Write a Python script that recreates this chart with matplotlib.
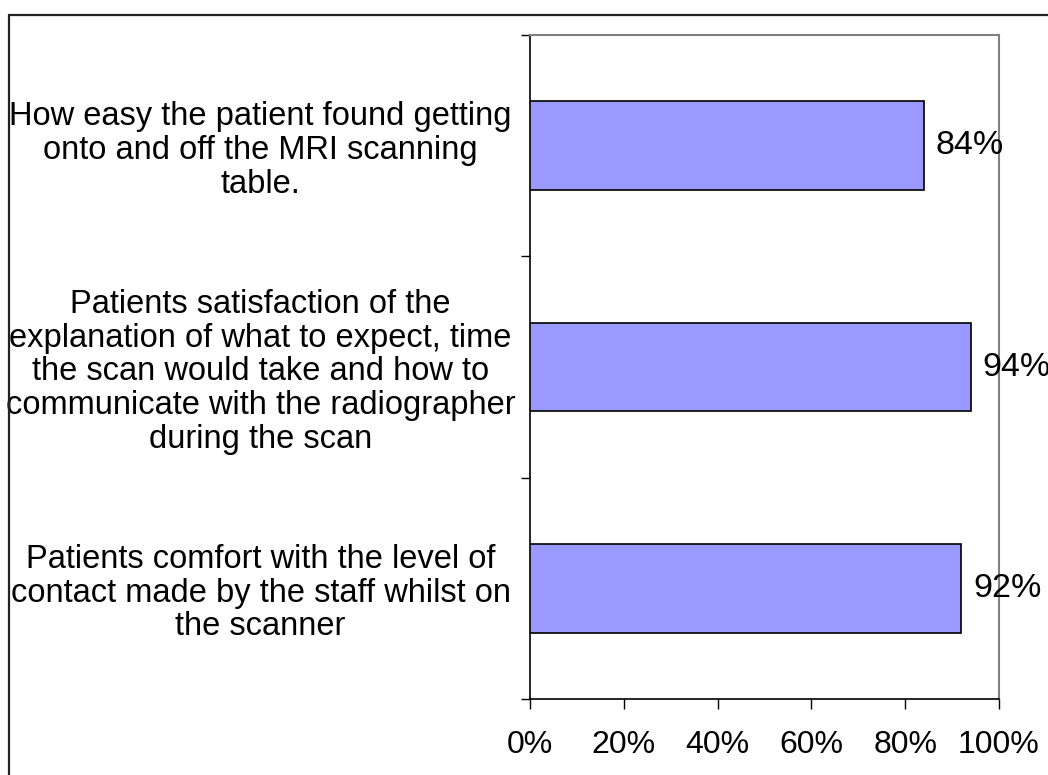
import matplotlib.pyplot as plt
from matplotlib.patches import Rectangle
from matplotlib.ticker import FixedLocator, PercentFormatter

plt.rcParams["font.family"] = ["Liberation Sans", "DejaVu Sans"]

# Data
questions = [
    "How easy the patient found getting\nonto and off the MRI scanning\ntable.",
    "Patients satisfaction of the\nexplanation of what to expect, time\nthe scan would take and how to\ncommunicate with the radiographer\nduring the scan",
    "Patients comfort with the level of\ncontact made by the staff whilst on\nthe scanner",
]
scores = [84, 94, 92]
x_ticks = [0, 20, 40, 60, 80, 100]

W, H = 1048, 775
fig = plt.figure(figsize=(W / 100, H / 100), dpi=100)
fig.patch.set_facecolor("white")

# outer chart frame (runs off the right and bottom edge)
fig.patches.append(Rectangle((9 / W, -0.1), 1.2, 1 - 15 / H + 0.1,
                             transform=fig.transFigure, fill=False,
                             edgecolor="#222222", linewidth=1.6))

ax = fig.add_axes([530 / W, 1 - 699 / H, 469 / W, 664 / H])
pos = list(range(len(questions)))
ax.barh(pos, scores, height=0.4, color="#9999FF", edgecolor="black", linewidth=1.2, zorder=3)

# value labels; the 94% one runs off the right edge like in the original
for p, s in zip(pos, scores):
    ax.text(s + 2.5, p, f"{s}%", va="center", ha="left", fontsize=24.5, zorder=4,
            clip_on=False)

ax.set_xlim(0, 100)
ax.set_ylim(len(questions) - 0.5, -0.5)

ax.set_xticks(x_ticks)
ax.xaxis.set_major_formatter(PercentFormatter(decimals=0))
ax.tick_params(axis="x", direction="out", length=7, width=1, labelsize=23, pad=15)

ax.set_yticks(pos)
ax.set_yticklabels(questions, fontsize=23.5, ha="center", linespacing=1.11)
ax.yaxis.set_minor_locator(FixedLocator([-0.5, 0.5, 1.5, 2.5]))
ax.tick_params(axis="y", which="major", length=0, pad=194)
ax.tick_params(axis="y", which="minor", direction="out", length=6.5, width=1)

for side in ["left", "bottom"]:
    ax.spines[side].set_color("black")
    ax.spines[side].set_linewidth(1.2)
for side in ["top", "right"]:
    ax.spines[side].set_color("#808080")
    ax.spines[side].set_linewidth(1.5)

fig.savefig("out.png", dpi=100)
